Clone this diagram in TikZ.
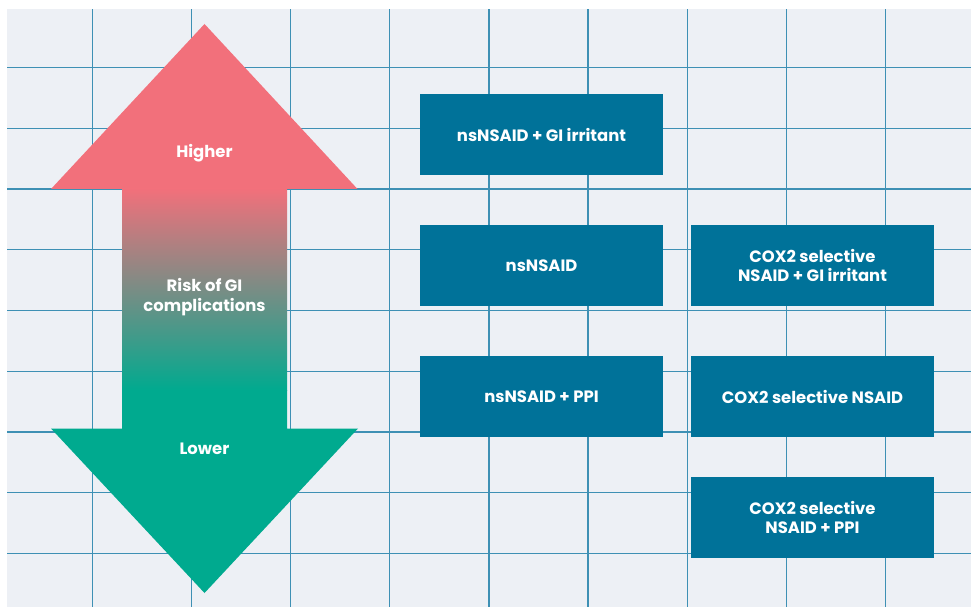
\documentclass[tikz,border=0pt]{standalone}
\usepackage{fontspec}
\setmainfont{Poppins}

\definecolor{gridbg}{RGB}{237,240,245}
\definecolor{gridline}{RGB}{62,144,180}
\definecolor{riskhigh}{RGB}{242,112,123}
\definecolor{riskmid}{RGB}{164,142,126}
\definecolor{risklow}{RGB}{0,170,143}
\definecolor{drugblue}{RGB}{0,114,153}

\begin{document}
\begin{tikzpicture}[x=1bp, y=-1bp,
  drugbox/.style={fill=drugblue, text=white, align=center, inner sep=0pt,
    minimum width=243bp, minimum height=81bp,
    font=\bfseries\fontsize{16.5}{19}\selectfont},
  risklabel/.style={text=white, align=center, inner sep=0pt, yshift=-2bp,
    font=\bfseries\fontsize{16.5}{19.5}\selectfont}]

  \useasboundingbox (0,0) rectangle (971,607);

  % --- Background and grid ---
  \fill[gridbg] (7,9.5) rectangle (971,607);
  \foreach \i in {0,...,8} \draw[gridline, line width=1.2bp] (92.5+99.1*\i, 9.5) -- (92.5+99.1*\i, 607);
  \foreach \j in {0,...,8} \draw[gridline, line width=1.2bp] (7, 67.7+60.7*\j) -- (971, 67.7+60.7*\j);

  % --- Risk arrow ---
  \fill[riskhigh] (204.5,24) -- (357.5,189) -- (51,189) -- cycle;
  \shade[top color=riskhigh, middle color=riskmid, bottom color=risklow]
    (122,188.5) rectangle (287,390.5);
  \fill[risklow] (122,390) -- (287,390) -- (287,428.5) -- (358,428.5)
    -- (204.5,593) -- (51,428.5) -- (122,428.5) -- cycle;

  \node[risklabel] (higher) at (204.5,151) {Higher};
  \node[risklabel] (risk) at (204.5,295) {Risk of GI\\complications};
  \node[risklabel] (lower) at (204.5,447) {Lower};

  % --- Drug combinations ---
  \node[drugbox] (nsgi) at (541.5,134.5) {\raisebox{-1.5bp}{nsNSAID + GI irritant}};
  \node[drugbox] (ns) at (541.5,265.5) {\raisebox{-1.5bp}{nsNSAID}};
  \node[drugbox] (nsppi) at (541.5,396.5) {\raisebox{-1.5bp}{nsNSAID + PPI}};
  \node[drugbox] (coxgi) at (812.5,265.5) {COX2 selective\\NSAID + GI irritant};
  \node[drugbox] (cox) at (812.5,396.5) {\raisebox{-1.5bp}{COX2 selective NSAID}};
  \node[drugbox] (coxppi) at (812.5,517.5) {COX2 selective\\NSAID + PPI};

\end{tikzpicture}
\end{document}
